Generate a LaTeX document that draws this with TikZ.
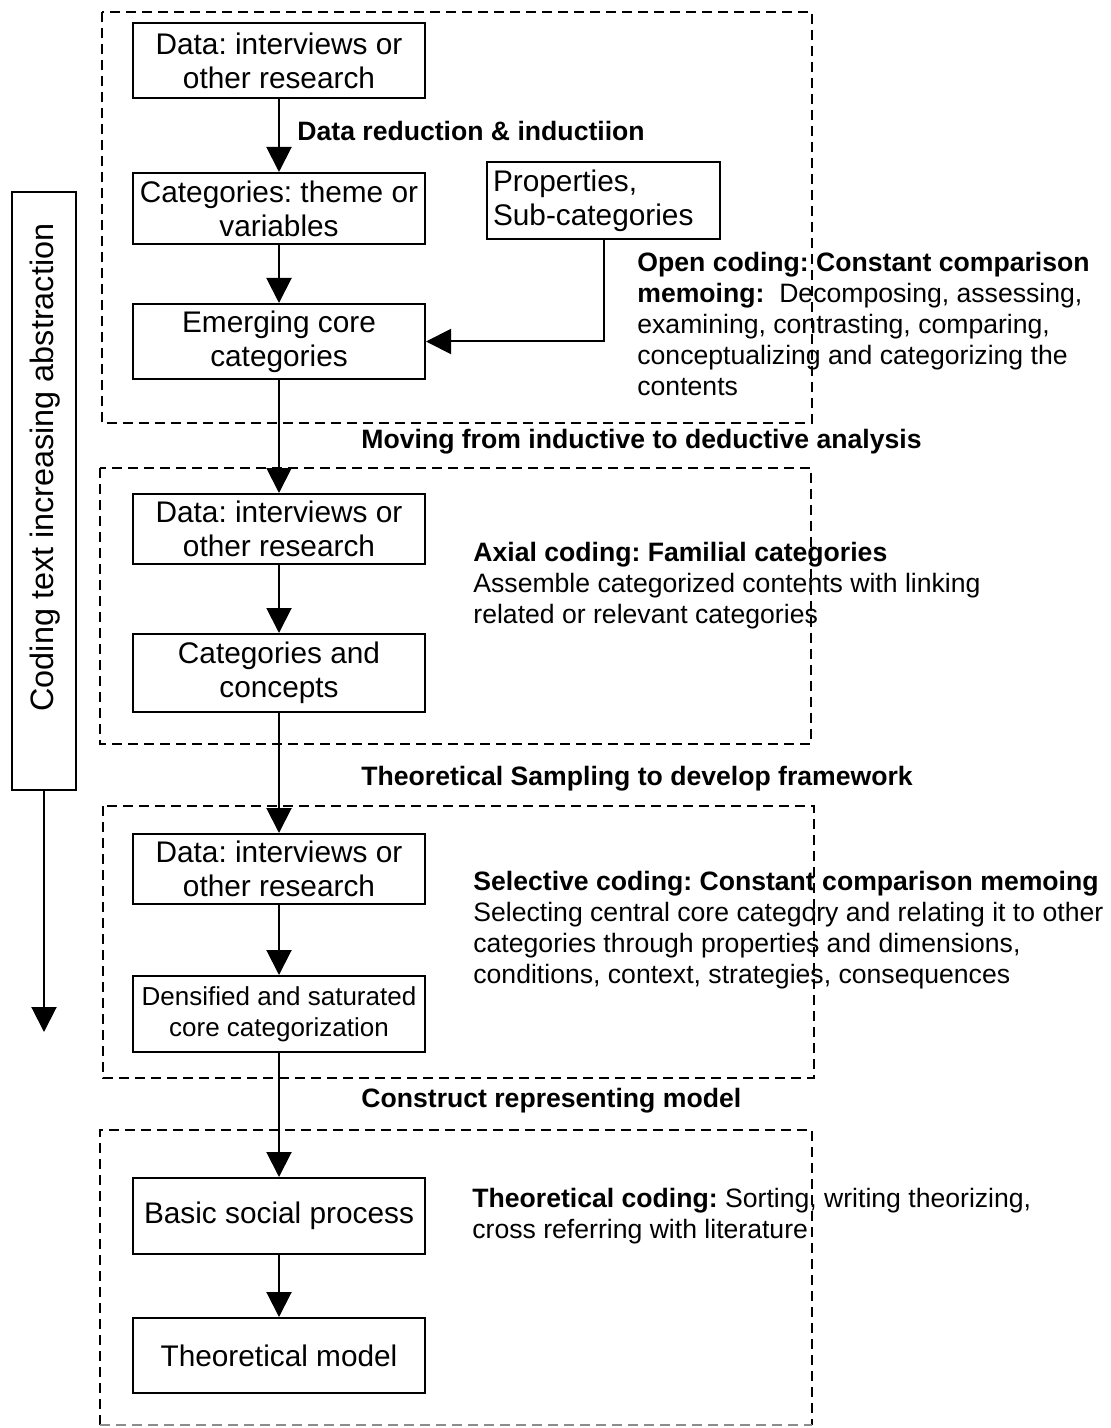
\documentclass[tikz,border=0pt]{standalone}
\usepackage{fontspec}
\setmainfont{Liberation Sans}
\usetikzlibrary{arrows.meta}
\frenchspacing

\begin{document}
\begin{tikzpicture}[x=0.5pt,y=-0.5pt,
  box/.style={draw, line width=1pt, minimum width=146pt, inner sep=0pt,
    align=center, font=\fontsize{14.9}{17}\selectfont},
  zone/.style={draw, line width=1.3pt, dash pattern=on 5pt off 3pt},
  flow/.style={line width=1pt, -{Triangle[length=12.5pt,width=12.5pt]}},
  phase/.style={font=\fontsize{13.3}{15.4}\selectfont\bfseries,
    anchor=base west, inner sep=0pt},
  % multi-line notes are placed by the baseline of their last line
  note/.style={font=\fontsize{13.3}{15.4}\selectfont, anchor=base west,
    align=left, inner sep=0pt},
]
\useasboundingbox (0,0) rectangle (1111,1428);

% stage frames
\draw[zone] (102,12) rectangle (812,423);
\draw[zone] (100,468) rectangle (811,744);
\draw[zone] (103,806) rectangle (814,1078);
\draw[zone] (100,1425) -- (100,1130) -- (812,1130) -- (812,1425);
\draw[zone, draw=black!45] (100,1425) -- (812,1425);

% open coding
\node[box, minimum height=37.5pt] (data1) at (279,60.5) {Data: interviews or\\other research};
\node[box, minimum height=35.5pt] (cat1) at (279,208.5) {Categories: theme or\\variables};
\node[box, minimum height=37.5pt] (emerg) at (279,341.5) {Emerging core\\categories};
\node[draw, line width=1pt, inner xsep=3pt, inner ysep=0pt, text width=110.5pt,
  minimum height=38.5pt, align=left, font=\fontsize{14.9}{17}\selectfont]
  (prop) at (603.5,200.5) {Properties,\\Sub-categories};

% axial coding
\node[box, minimum height=35pt] (data2) at (279,529) {Data: interviews or\\other research};
\node[box, minimum height=39pt] (catcon) at (279,673) {Categories and\\concepts};

% selective coding
\node[box, minimum height=35pt] (data3) at (279,869) {Data: interviews or\\other research};
\node[box, minimum height=38pt, font=\fontsize{13}{15.5}\selectfont] (dens) at (279,1014)
  {Densified and saturated\\core categorization};

% theoretical coding
\node[box, minimum height=38pt] (basic) at (279,1216) {Basic social process};
\node[box, minimum height=37.5pt] (theo) at (279,1355.5) {Theoretical model};

% connectors
\draw[flow] (data1) -- (cat1);
\draw[flow] (cat1) -- (emerg);
\draw[flow] (prop.south) |- (emerg.east);
\draw[flow] (emerg) -- (data2);
\draw[flow] (data2) -- (catcon);
\draw[flow] (catcon) -- (data3);
\draw[flow] (data3) -- (dens);
\draw[flow] (dens) -- (basic);
\draw[flow] (basic) -- (theo);

% transition labels
\node[phase] (lab1) at (297,141) {Data reduction \& inductiion};
\node[phase] (lab2) at (361,448) {Moving from inductive to deductive analysis};
\node[phase] (lab3) at (361,785) {Theoretical Sampling to develop framework};
\node[phase] (lab4) at (361,1107) {Construct representing model};

% stage descriptions
\node[note] (open) at (637,395) {\textbf{Open coding: Constant comparison}\\
  \textbf{memoing:}\ \ Decomposing, assessing,\\
  examining, contrasting, comparing,\\
  conceptualizing and categorizing the\\
  contents};
\node[note] (axial) at (473,623) {\textbf{Axial coding: Familial categories}\\
  Assemble categorized contents with linking\\
  related or relevant categories};
\node[note] (select) at (473,983) {\textbf{Selective coding: Constant comparison memoing}\\
  Selecting central core category and relating it to other\\
  categories through properties and dimensions,\\
  conditions, context, strategies, consequences};
\node[note] (theor) at (472,1238) {\textbf{Theoretical coding:} Sorting, writing theorizing,\\
  cross referring with literature};

% abstraction scale
\node[draw, line width=1pt, minimum width=32pt, minimum height=299pt, inner sep=0pt]
  (scale) at (44,491) {};
\node[rotate=90, anchor=base west, inner sep=0pt, font=\fontsize{16.2}{19}\selectfont]
  (scaletext) at (54,712) {Coding text increasing abstraction};
\coordinate (scaleend) at (44,1032);
\draw[flow] (scale.south) -- (scaleend);
\end{tikzpicture}
\end{document}
